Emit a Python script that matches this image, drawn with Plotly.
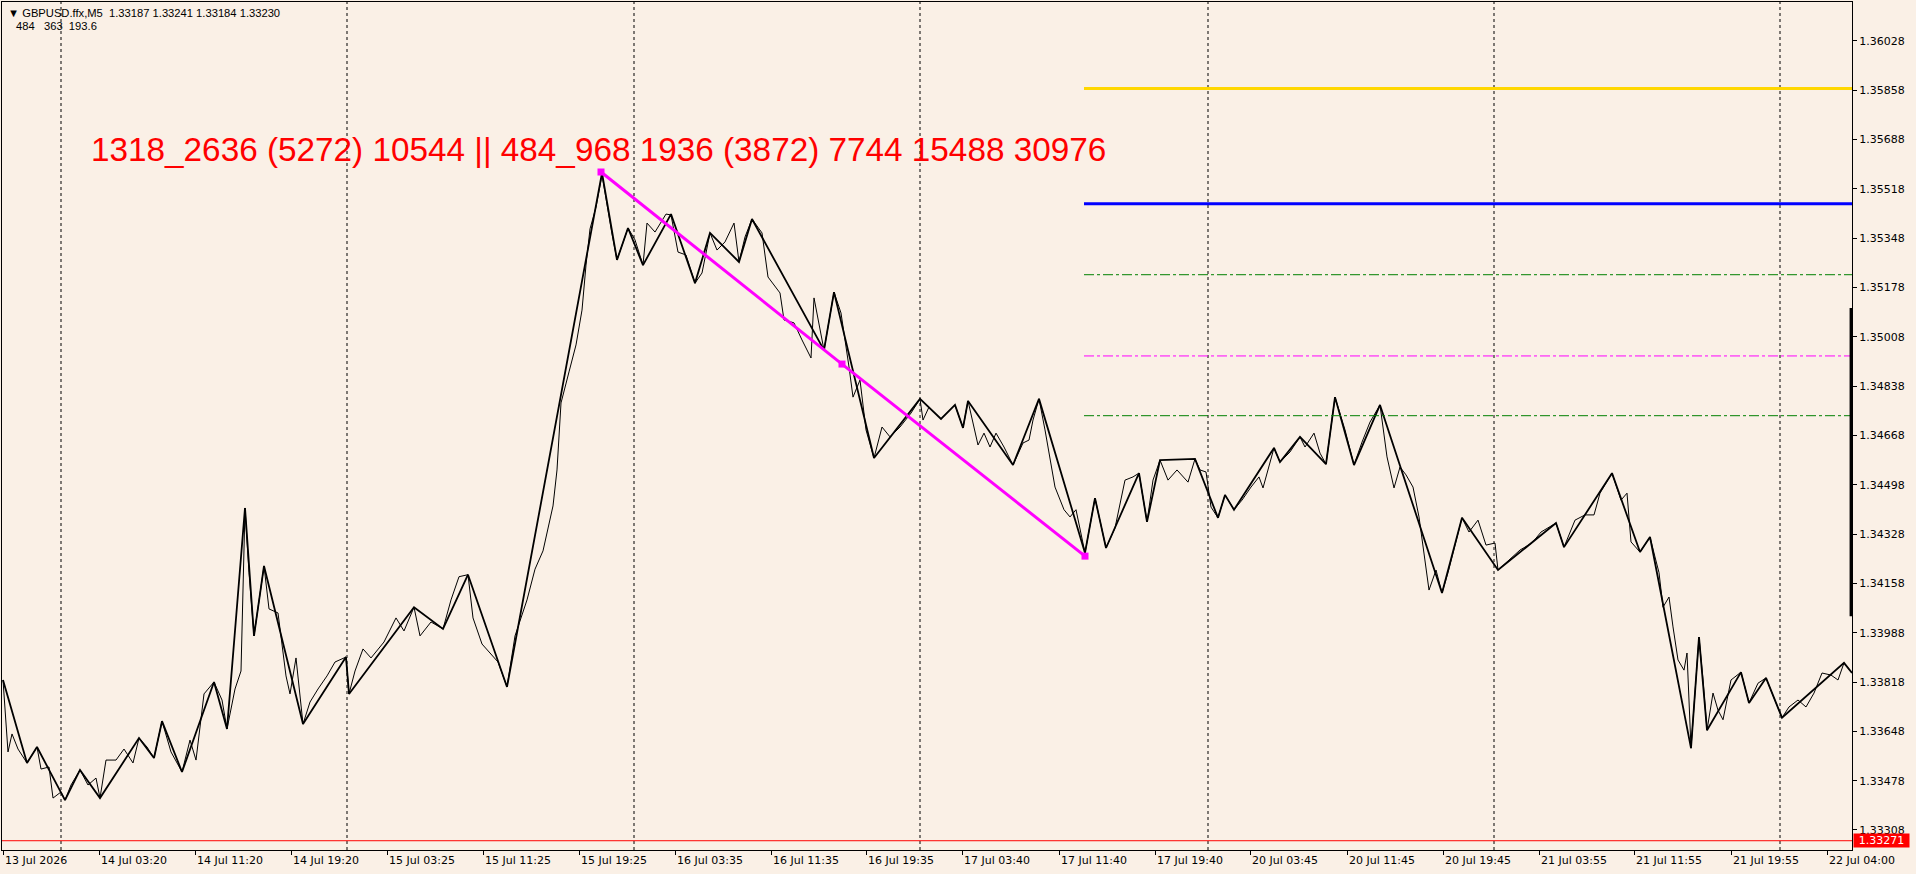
import plotly.graph_objects as go

# GBPUSD M5 close (bar index, price)
close_bar = [0, 5, 9, 15, 24, 34, 38, 46, 50, 58, 62, 68, 77, 85, 93, 97, 103, 113, 121, 130,
             136, 144, 151, 159, 168, 179, 187, 193, 201, 211, 219, 224, 232, 238, 242, 246, 251, 256, 261, 266,
             275, 283, 287, 293, 300, 307, 315, 324, 332, 343, 346, 352, 360, 368, 381, 393, 401, 411, 417, 428,
             440, 448, 456, 465, 470, 479, 487, 495, 504, 512, 524, 532, 540, 550, 554, 558, 566, 573, 579, 583,
             587, 593, 599, 605, 609, 614, 625, 632, 640, 644, 652, 663, 668, 675, 683, 692, 699, 707, 714, 722,
             731, 736, 742, 749, 759, 765, 777, 781, 791, 799, 808, 811, 821, 831, 838, 846, 850, 857, 863, 871,
             879, 887, 897, 908, 917, 920, 926, 938, 952, 960, 965, 975, 981, 987, 993, 1001, 1010, 1020, 1026, 1030,
             1036, 1042, 1048, 1052, 1061, 1067, 1073, 1082, 1092, 1097, 1103, 1112, 1122, 1130, 1136, 1144, 1150, 1157, 1165, 1174,
             1185, 1192, 1197, 1203, 1208, 1215, 1222, 1231, 1239, 1248, 1256, 1260, 1271, 1277, 1287, 1297, 1302, 1311, 1317, 1323,
             1332, 1342, 1351, 1359, 1367, 1377, 1384, 1391, 1397, 1403, 1410, 1416, 1422, 1426, 1433, 1439, 1445, 1452, 1459, 1466,
             1475, 1483, 1492, 1495, 1504, 1517, 1529, 1538, 1553, 1561, 1572, 1582, 1591, 1597, 1609, 1618, 1624, 1628, 1637, 1647,
             1652, 1656, 1660, 1666, 1670, 1675, 1681, 1684, 1688, 1696, 1700, 1704, 1710, 1715, 1720, 1728, 1738, 1746, 1755, 1763,
             1769, 1779, 1786, 1795, 1803, 1811, 1819, 1828, 1835, 1841, 1849]
close_px = [1.33825, 1.33577, 1.33639, 1.33587, 1.33539, 1.33594, 1.33518, 1.33525, 1.33418, 1.33439,
            1.33411, 1.33463, 1.33515, 1.33463, 1.33487, 1.33418, 1.33549, 1.33549, 1.33587, 1.33539,
            1.33625, 1.33594, 1.33556, 1.33683, 1.33577, 1.33508, 1.33618, 1.33549, 1.33777, 1.33818,
            1.33756, 1.33656, 1.33794, 1.33856, 1.34418, 1.34195, 1.33977, 1.34101, 1.34218, 1.34070,
            1.34056, 1.33839, 1.33777, 1.33901, 1.33673, 1.33749, 1.33794, 1.33839, 1.33887, 1.33904,
            1.33777, 1.33856, 1.33932, 1.33901, 1.33956, 1.34039, 1.33994, 1.34076, 1.33977, 1.34025,
            1.34001, 1.34101, 1.34181, 1.34188, 1.34039, 1.33949, 1.33918, 1.33887, 1.33801, 1.33977,
            1.34101, 1.34207, 1.34270, 1.34425, 1.34549, 1.34780, 1.34887, 1.34980, 1.35100, 1.35255,
            1.35380, 1.35455, 1.35566, 1.35442, 1.35362, 1.35273, 1.35383, 1.35342, 1.35255, 1.35400,
            1.35369, 1.35431, 1.35428, 1.35300, 1.35290, 1.35193, 1.35228, 1.35366, 1.35307, 1.35335,
            1.35400, 1.35266, 1.35352, 1.35414, 1.35366, 1.35214, 1.35159, 1.35066, 1.35056, 1.34997,
            1.34935, 1.35142, 1.34962, 1.35162, 1.35090, 1.34904, 1.34800, 1.34859, 1.34687, 1.34590,
            1.34697, 1.34663, 1.34697, 1.34745, 1.34794, 1.34721, 1.34766, 1.34725, 1.34773, 1.34694,
            1.34787, 1.34635, 1.34676, 1.34628, 1.34676, 1.34628, 1.34566, 1.34642, 1.34652, 1.34721,
            1.34794, 1.34687, 1.34573, 1.34490, 1.34412, 1.34387, 1.34412, 1.34263, 1.34452, 1.34376,
            1.34280, 1.34349, 1.34514, 1.34525, 1.34538, 1.34370, 1.34514, 1.34583, 1.34514, 1.34549,
            1.34507, 1.34587, 1.34549, 1.34542, 1.34421, 1.34384, 1.34463, 1.34412, 1.34445, 1.34490,
            1.34525, 1.34487, 1.34625, 1.34576, 1.34611, 1.34663, 1.34628, 1.34676, 1.34607, 1.34569,
            1.34800, 1.34687, 1.34566, 1.34645, 1.34714, 1.34773, 1.34594, 1.34487, 1.34559, 1.34532,
            1.34490, 1.34387, 1.34239, 1.34135, 1.34204, 1.34125, 1.34195, 1.34290, 1.34384, 1.34335,
            1.34376, 1.34290, 1.34297, 1.34204, 1.34232, 1.34273, 1.34297, 1.34335, 1.34366, 1.34283,
            1.34376, 1.34394, 1.34394, 1.34469, 1.34538, 1.34445, 1.34469, 1.34301, 1.34266, 1.34318,
            1.34249, 1.34195, 1.34076, 1.34111, 1.34008, 1.33894, 1.33859, 1.33918, 1.33590, 1.33973,
            1.33825, 1.33652, 1.33780, 1.33721, 1.33688, 1.33825, 1.33852, 1.33746, 1.33814, 1.33832,
            1.33780, 1.33695, 1.33732, 1.33756, 1.33732, 1.33780, 1.33849, 1.33842, 1.33825, 1.33884,
            1.33849]

# zigzag swing points
zz_bar = [0, 24, 34, 62, 77, 97, 136, 151, 159, 179, 211, 224, 242, 251, 261, 300, 343, 346, 411, 440,
          465, 504, 599, 614, 625, 640, 668, 692, 707, 736, 749, 821, 831, 871, 917, 938, 952, 960, 965, 1010,
          1036, 1082, 1092, 1103, 1136, 1144, 1157, 1192, 1215, 1222, 1231, 1271, 1277, 1297, 1323, 1332, 1351, 1377, 1439, 1459,
          1495, 1553, 1561, 1609, 1637, 1647, 1688, 1696, 1704, 1738, 1746, 1763, 1779, 1841, 1849]
zz_px = [1.33825, 1.33539, 1.33594, 1.33411, 1.33515, 1.33418, 1.33625, 1.33556, 1.33683, 1.33508,
         1.33818, 1.33656, 1.34418, 1.33977, 1.34218, 1.33673, 1.33904, 1.33777, 1.34076, 1.34001,
         1.34188, 1.33801, 1.35573, 1.35273, 1.35383, 1.35255, 1.35431, 1.35193, 1.35366, 1.35266,
         1.35414, 1.34962, 1.35162, 1.34590, 1.34794, 1.34725, 1.34773, 1.34694, 1.34787, 1.34566,
         1.34794, 1.34263, 1.34452, 1.34280, 1.34538, 1.34370, 1.34583, 1.34587, 1.34384, 1.34463,
         1.34412, 1.34625, 1.34576, 1.34663, 1.34569, 1.34800, 1.34566, 1.34773, 1.34125, 1.34384,
         1.34204, 1.34366, 1.34283, 1.34538, 1.34266, 1.34318, 1.33590, 1.33973, 1.33652, 1.33852,
         1.33746, 1.33832, 1.33695, 1.33884, 1.33849]

# magenta trend line
trend_bar = [598, 839, 1082]
trend_px = [1.35576, 1.34914, 1.34252]

# horizontal levels starting at the trend end
level_start = 1081
level_px = [1.35864, 1.35467, 1.35222, 1.34942, 1.34736]
level_color = ["#FFD700", "#0000FF", "#008000", "#FF00FF", "#008000"]
level_width = [3, 3, 1, 1, 1]
level_dash = ["solid", "solid", "10px,3px,3px,3px", "10px,3px,3px,3px", "10px,3px,3px,3px"]

bid = 1.33271
range_bar_px = [1.34045, 1.35107]

day_breaks = [58, 344, 631, 917, 1205, 1491, 1777]

tick_bars = [0, 96, 192, 288, 384, 480, 576, 672, 768, 863, 959, 1056, 1152, 1247, 1344, 1440, 1536, 1631, 1728, 1824]
tick_text = ["13 Jul 2026", "14 Jul 03:20", "14 Jul 11:20", "14 Jul 19:20", "15 Jul 03:25", "15 Jul 11:25",
             "15 Jul 19:25", "16 Jul 03:35", "16 Jul 11:35", "16 Jul 19:35", "17 Jul 03:40", "17 Jul 11:40",
             "17 Jul 19:40", "20 Jul 03:45", "20 Jul 11:45", "20 Jul 19:45", "21 Jul 03:55", "21 Jul 11:55",
             "21 Jul 19:55", "22 Jul 04:00"]

header = "GBPUSD.ffx,M5  1.33187 1.33241 1.33184 1.33230"
header2 = "484   363  193.6"
label_text = "1318_2636 (5272) 10544 || 484_968 1936 (3872) 7744 15488 30976"

BG = "#FAF0E6"
FONT = "Liberation Sans"
AXFONT = "DejaVu Sans"

fig = go.Figure()
fig.add_trace(go.Scatter(x=close_bar, y=close_px, mode="lines",
                         line=dict(color="black", width=1), hoverinfo="skip"))
fig.add_trace(go.Scatter(x=zz_bar, y=zz_px, mode="lines",
                         line=dict(color="black", width=1.8), hoverinfo="skip"))
fig.add_trace(go.Scatter(x=trend_bar, y=trend_px, mode="lines+markers",
                         line=dict(color="#FF00FF", width=3),
                         marker=dict(symbol="square", size=7, color="#FF00FF"), hoverinfo="skip"))

shapes = []
for b in day_breaks:
    shapes.append(dict(type="line", xref="x", yref="paper", x0=b, x1=b, y0=0, y1=1, layer="below",
                       line=dict(color="black", width=1, dash="3px,3px")))
for p, c, w, d in zip(level_px, level_color, level_width, level_dash):
    shapes.append(dict(type="line", xref="x", yref="y", x0=level_start, x1=1849, y0=p, y1=p,
                       line=dict(color=c, width=w, dash=d)))
shapes.append(dict(type="line", xref="paper", yref="y", x0=0, x1=1, y0=bid, y1=bid,
                   line=dict(color="#FF0000", width=1)))
shapes.append(dict(type="line", xref="paper", yref="y", x0=0.9995, x1=0.9995,
                   y0=range_bar_px[0], y1=range_bar_px[1], line=dict(color="black", width=3)))

ann = []
for b, t in zip(tick_bars, tick_text):
    ann.append(dict(x=b, xref="x", y=0, yref="paper", text=t, showarrow=False,
                    xanchor="left", yanchor="top", xshift=0, yshift=-2,
                    font=dict(family=AXFONT, size=11, color="black")))
ann.append(dict(x=0, xref="paper", y=1, yref="paper", text="▼ " + header, showarrow=False,
                xanchor="left", yanchor="top", xshift=4, yshift=-3,
                font=dict(family=FONT, size=11.2, color="black")))
ann.append(dict(x=0, xref="paper", y=1, yref="paper", text=header2, showarrow=False,
                xanchor="left", yanchor="top", xshift=12, yshift=-16,
                font=dict(family=FONT, size=11.2, color="black")))
ann.append(dict(x=86, xref="x", y=1.35652, yref="y", text=label_text, showarrow=False,
                xanchor="left", yanchor="middle",
                font=dict(family=FONT, size=33.3, color="#FF0000")))
ann.append(dict(x=1, xref="paper", y=bid, yref="y", text="1.33271", showarrow=False,
                xanchor="left", yanchor="middle", xshift=1, width=55, height=13,
                bgcolor="#FF0000", borderpad=0,
                font=dict(family=AXFONT, size=11, color="white")))

fig.update_layout(
    width=1916, height=874,
    margin=dict(l=2, r=64, t=2, b=24),
    paper_bgcolor=BG, plot_bgcolor=BG,
    showlegend=False,
    shapes=shapes, annotations=ann,
    xaxis=dict(range=[-1, 1849], showgrid=False, zeroline=False,
               showline=True, linecolor="black", linewidth=1, mirror=True,
               ticks="outside", ticklen=4, tickcolor="black",
               tickvals=tick_bars, showticklabels=False),
    yaxis=dict(side="right", range=[1.33239, 1.36162], showgrid=False, zeroline=False,
               showline=True, linecolor="black", linewidth=1, mirror=True,
               ticks="outside", ticklen=4, tickcolor="black",
               tick0=1.33308, dtick=0.0017, tickformat=".5f",
               tickfont=dict(family=AXFONT, size=11, color="black")),
)

fig.write_html("out.html", config={"displayModeBar": False},
               post_script="document.body.style.margin='0';document.body.style.overflow='hidden';")
